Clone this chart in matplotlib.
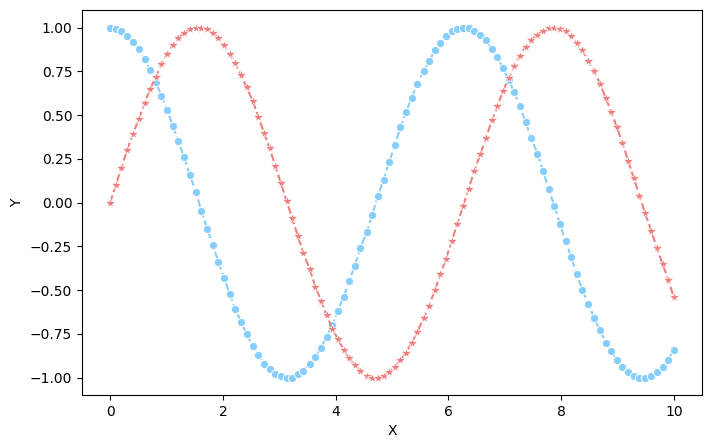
import matplotlib
matplotlib.use("Agg")
import matplotlib.pyplot as plt

# ---- data ----
x = [0.00, 0.10, 0.20, 0.30, 0.40, 0.51, 0.61, 0.71, 0.81, 0.91,
     1.01, 1.11, 1.21, 1.31, 1.41, 1.52, 1.62, 1.72, 1.82, 1.92,
     2.02, 2.12, 2.22, 2.32, 2.42, 2.53, 2.63, 2.73, 2.83, 2.93,
     3.03, 3.13, 3.23, 3.33, 3.43, 3.54, 3.64, 3.74, 3.84, 3.94,
     4.04, 4.14, 4.24, 4.34, 4.44, 4.55, 4.65, 4.75, 4.85, 4.95,
     5.05, 5.15, 5.25, 5.35, 5.45, 5.56, 5.66, 5.76, 5.86, 5.96,
     6.06, 6.16, 6.26, 6.36, 6.46, 6.57, 6.67, 6.77, 6.87, 6.97,
     7.07, 7.17, 7.27, 7.37, 7.47, 7.58, 7.68, 7.78, 7.88, 7.98,
     8.08, 8.18, 8.28, 8.38, 8.48, 8.59, 8.69, 8.79, 8.89, 8.99,
     9.09, 9.19, 9.29, 9.39, 9.49, 9.60, 9.70, 9.80, 9.90, 10.00]

y_sin = [0.00, 0.10, 0.20, 0.30, 0.39, 0.48, 0.57, 0.65, 0.72, 0.79,
         0.85, 0.90, 0.94, 0.97, 0.99, 1.00, 1.00, 0.99, 0.97, 0.94,
         0.90, 0.85, 0.80, 0.73, 0.66, 0.58, 0.49, 0.40, 0.31, 0.21,
         0.11, 0.01, -0.09, -0.19, -0.29, -0.38, -0.48, -0.56, -0.64, -0.72,
         -0.78, -0.84, -0.89, -0.93, -0.96, -0.99, -1.00, -1.00, -0.99, -0.97,
         -0.94, -0.90, -0.86, -0.80, -0.74, -0.66, -0.59, -0.50, -0.41, -0.32,
         -0.22, -0.12, -0.02, 0.08, 0.18, 0.28, 0.37, 0.47, 0.55, 0.64,
         0.71, 0.78, 0.84, 0.89, 0.93, 0.96, 0.98, 1.00, 1.00, 0.99,
         0.98, 0.95, 0.91, 0.87, 0.81, 0.75, 0.68, 0.60, 0.52, 0.43,
         0.34, 0.24, 0.14, 0.04, -0.06, -0.16, -0.26, -0.35, -0.44, -0.54]

y_cos = [1.00, 0.99, 0.98, 0.95, 0.92, 0.88, 0.82, 0.76, 0.69, 0.61,
         0.53, 0.44, 0.35, 0.26, 0.16, 0.06, -0.05, -0.15, -0.24, -0.34,
         -0.43, -0.52, -0.61, -0.68, -0.75, -0.82, -0.87, -0.92, -0.95, -0.98,
         -0.99, -1.00, -1.00, -0.98, -0.96, -0.92, -0.88, -0.83, -0.77, -0.70,
         -0.62, -0.54, -0.45, -0.36, -0.26, -0.17, -0.07, 0.04, 0.13, 0.23,
         0.33, 0.43, 0.52, 0.60, 0.68, 0.75, 0.81, 0.87, 0.91, 0.95,
         0.98, 0.99, 1.00, 1.00, 0.98, 0.96, 0.93, 0.88, 0.83, 0.77,
         0.70, 0.63, 0.55, 0.46, 0.37, 0.28, 0.18, 0.08, -0.02, -0.12,
         -0.22, -0.31, -0.41, -0.50, -0.58, -0.66, -0.73, -0.80, -0.85, -0.90,
         -0.94, -0.97, -0.99, -1.00, -1.00, -0.99, -0.97, -0.94, -0.90, -0.84]

# ---- plot ----
fig = plt.figure(figsize=(7.11, 4.48), dpi=100)
ax = fig.add_axes([0.1153, 0.1183, 0.872, 0.859])

ax.plot(x, y_cos, linestyle="--", color="lightskyblue", marker="o",
        markersize=6, markeredgecolor="white", markeredgewidth=0.75)
ax.plot(x, y_sin, linestyle="--", color="lightcoral", marker="*",
        markersize=7, markeredgecolor="white", markeredgewidth=0.5)

ax.set_xlabel("X")
ax.set_ylabel("Y")

fig.savefig("out.png", dpi=100)
